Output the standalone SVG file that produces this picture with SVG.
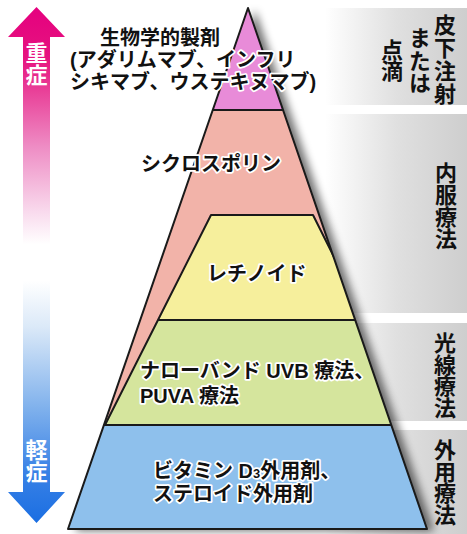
<svg xmlns="http://www.w3.org/2000/svg" width="467" height="534" viewBox="0 0 467 534">
<defs>
<style>
.lbl{font-family:"Liberation Sans","Noto Sans CJK JP",sans-serif;font-size:20px;font-weight:700;fill:#111;stroke:#fff;stroke-width:3.5px;paint-order:stroke;stroke-linejoin:round}
.side{font-family:"Noto Sans CJK JP","Noto Sans",sans-serif;font-size:22px;font-weight:700;fill:#111;writing-mode:vertical-rl;text-orientation:upright}
.sev{font-family:"Noto Sans CJK JP","Noto Sans",sans-serif;font-size:22px;font-weight:700;fill:#fff;writing-mode:vertical-rl;text-orientation:upright}
.edge{fill:none;stroke:#1a1a1a;stroke-width:2;stroke-linejoin:round}
</style>
<linearGradient id="arrowGrad" gradientUnits="userSpaceOnUse" x1="0" y1="7" x2="0" y2="523">
<stop offset="0" stop-color="#e5007f"/>
<stop offset="0.1" stop-color="#e6147f"/>
<stop offset="0.27" stop-color="#ee8cc4"/>
<stop offset="0.4" stop-color="#f9dcee"/>
<stop offset="0.46" stop-color="#ffffff"/>
<stop offset="0.53" stop-color="#ffffff"/>
<stop offset="0.62" stop-color="#dbe9f8"/>
<stop offset="0.78" stop-color="#7eb0ec"/>
<stop offset="0.9" stop-color="#3a82e6"/>
<stop offset="1" stop-color="#1a6ee2"/>
</linearGradient>
<linearGradient id="panelGrad" gradientUnits="userSpaceOnUse" x1="325" y1="0" x2="467" y2="0">
<stop offset="0" stop-color="#ffffff"/>
<stop offset="0.5" stop-color="#e0e0e0"/>
<stop offset="1" stop-color="#cecece"/>
</linearGradient>
<clipPath id="pyr">
<polygon points="248,8 427,529 68,529"/>
</clipPath>
<filter id="shadow" x="-20%" y="-20%" width="140%" height="140%">
<feGaussianBlur stdDeviation="4"/>
</filter>
</defs>
<rect width="467" height="534" fill="#ffffff"/>
<g id="panels">
<rect x="300" y="8" width="167" height="97" fill="url(#panelGrad)"/>
<rect x="300" y="114" width="167" height="199" fill="url(#panelGrad)"/>
<rect x="300" y="323" width="167" height="98" fill="url(#panelGrad)"/>
<rect x="300" y="430" width="167" height="104" fill="url(#panelGrad)"/>
</g>
<g id="severity-arrow">
<polygon points="36.5,7 65,37 50,37 50,492 65,492 36.5,523 8,492 23,492 23,37 8,37" fill="url(#arrowGrad)"/>
<text class="sev" x="36.5" y="42">重症</text>
<text class="sev" x="36.5" y="439">軽症</text>
</g>
<polygon points="248,8 427,529 68,529" transform="translate(7,2)" fill="#000" opacity="0.55" filter="url(#shadow)"/>
<g id="pyramid">
<g clip-path="url(#pyr)">
<rect x="0" y="0" width="467" height="534" fill="#f2b3a9"/>
<rect id="biologics-layer" x="0" y="0" width="467" height="110" fill="#e88bd8"/>
<polygon id="retinoid-layer" points="211,215 313,215 365.5,320 158,320" fill="#f6ef9c"/>
<polygon id="phototherapy-layer" points="158,320 440,320 440,425 105,425" fill="#d5e59d"/>
<rect id="topical-layer" x="0" y="425" width="467" height="109" fill="#8ec0ec"/>
<path class="edge" d="M200,110 H300 M158,320 L211,215 H313 L340,269 M158,320 H370 M158,320 L105,425 M90,425 H400"/>
</g>
<polygon class="edge" points="248,8 427,529 68,529"/>
</g>
<g id="labels">
<text class="lbl" x="100" y="45">生物学的製剤</text>
<text class="lbl" x="70" y="66.5">(アダリムマブ、インフリ</text>
<text class="lbl" x="70" y="88.5">シキマブ、ウステキヌマブ)</text>
<text class="lbl" x="141" y="171">シクロスポリン</text>
<text class="lbl" x="207" y="281">レチノイド</text>
<text class="lbl" x="140" y="378">ナローバンド UVB 療法、</text>
<text class="lbl" x="140" y="403">PUVA 療法</text>
<text class="lbl" x="153" y="478">ビタミン D<tspan font-size="13">3</tspan>外用剤、</text>
<text class="lbl" x="153" y="501">ステロイド外用剤</text>
</g>
<g id="route-labels">
<text class="side" x="445" y="14" font-size="20" letter-spacing="1">皮下注射</text>
<text class="side" x="420" y="27" font-size="20" letter-spacing="0.5">または</text>
<text class="side" x="392" y="39" font-size="20" letter-spacing="-1">点滴</text>
<text class="side" x="446" y="162">内服療法</text>
<text class="side" x="445" y="332" font-size="21" letter-spacing="-0.5">光線療法</text>
<text class="side" x="445" y="439" font-size="21" letter-spacing="-0.5">外用療法</text>
</g>
</svg>
